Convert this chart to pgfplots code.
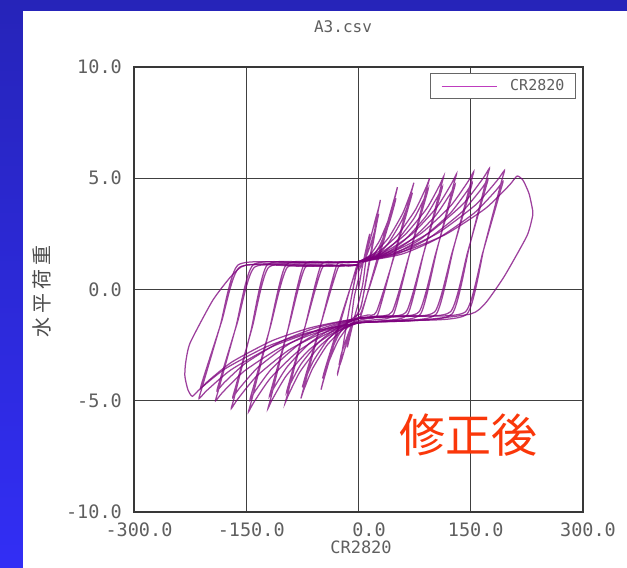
\documentclass[border=0pt]{standalone}
\usepackage{pgfplots}
\pgfplotsset{compat=1.18}
\usepackage{fontspec}
\setmainfont{DejaVu Sans Mono}
\newfontfamily\jp{Noto Sans CJK JP}
\definecolor{hyst}{RGB}{125,0,125}
\definecolor{legline}{RGB}{190,60,190}
\definecolor{bgtop}{RGB}{38,36,185}
\definecolor{bgbot}{RGB}{50,46,245}
\definecolor{fix}{RGB}{250,55,10}
\definecolor{tickgray}{RGB}{95,95,95}
\pgfplotsset{hys/.style={color=hyst, line width=1.25pt, opacity=0.75, smooth, tension=0.35}}
\begin{document}
\begin{tikzpicture}[x=1pt,y=1pt]
\shade[top color=bgtop,bottom color=bgbot] (0,0) rectangle (627,568);
\fill[white] (23,0) rectangle (627,557);
\begin{axis}[
  at={(134pt,56pt)}, anchor=south west,
  width=449pt, height=445pt, scale only axis,
  xmin=-300, xmax=300, ymin=-10, ymax=10,
  xtick={-300,-150,0,150,300}, ytick={-10,-5,0,5,10},
  xticklabels={-300.0,-150.0,\phantom{-}0.0,150.0,300.0},
  yticklabels={-10.0\hspace{-10pt},-5.0,0.0,5.0,10.0},
  grid=major,
  major grid style={draw=black!75, line width=1.3pt},
  axis line style={draw=black!78, line width=2pt},
  tick style={draw=none},
  ticklabel style={font=\fontsize{18.5}{18.5}\selectfont, text=tickgray, inner sep=0pt},
  xticklabel style={yshift=-10.5pt, xshift=5pt},
  yticklabel style={xshift=-12pt},
  title={A3.csv},
  title style={at={(axis description cs:0.4655,1.0764)}, anchor=center, font=\fontsize{16}{16}\selectfont, text=tickgray, inner sep=0pt},
  xlabel={CR2820},
  xlabel style={at={(axis description cs:0.5056,-0.0800)}, anchor=center, font=\fontsize{17}{17}\selectfont, text=tickgray, inner sep=0pt},
  ylabel={水\kern4pt 平\kern4pt 荷\kern4pt 重},
  ylabel style={at={(axis description cs:-0.2049,0.4966)}, anchor=center, font=\jp\fontsize{20}{20}\selectfont, text=black!70, inner sep=0pt},
  legend style={at={(axis description cs:0.98441,0.98652)}, anchor=north east, draw=black!60, line width=1.2pt, fill=white, inner xsep=11pt, inner ysep=0pt, font=\fontsize{15}{15}\selectfont, text=tickgray, column sep=13pt, nodes={inner sep=0pt, minimum height=25pt}},
  legend image code/.code={\draw[#1] (0pt,0pt) -- (55pt,0pt);},
  legend image post style={color=legline, opacity=1, line width=1pt},
]
% cycles 1-2
\addplot[hys] coordinates {(0,0) (5,1.0) (10,1.8) (15,2.5) (12,1.9) (6,0.3) (0,-0.6) (-5,-1.2) (-10,-1.9) (-15,-2.6) (-12,-2.0) (-6,-0.4) (0,0.5) (0,0.8)
 (8,1.4) (16,2.3) (23,3.2) (28,3.8) (29,4.0) (25,3.3) (14,1.2) (4,-0.7) (0,-1.0) (-8,-1.6) (-15,-2.3) (-22,-3.1) (-27,-3.6) (-28,-3.8) (-24,-3.2) (-13,-1.0) (-3,0.8) (0,1.0)
 (8,1.3) (16,2.0) (23,2.8) (27,3.4) (24,2.9) (13,0.9) (3,-0.8) (-8,-1.5) (-16,-2.2) (-23,-2.9) (-26,-3.4) (-22,-2.8) (-12,-0.8) (-2,0.9) (0,1.1)};
\addlegendentry{CR2820\hspace{9pt}}
% cycle 3
\addplot[hys, forget plot] coordinates {(0,1.1) (15.6,1.56) (28.6,2.22) (41.6,3.27) (49.4,4.22) (52,4.6) (48,4.1) (26,1.5) (4,-1.1) (0,-1.3) (-15,-1.72) (-27.5,-2.32) (-40,-3.28) (-47.5,-4.15) (-50,-4.5) (-46,-4.0) (-24,-1.45) (-2,1.1) (0,1.2)
 (15,1.32) (27.5,1.92) (40,2.88) (47.5,3.75) (50,4.1) (46,3.6) (25,1.2) (4,-1.0) (0,-1.1) (-14.4,-1.48) (-26.4,-2.03) (-38.4,-2.9) (-45.6,-3.68) (-48,-4.0) (-44,-3.5) (-23,-1.2) (-2,1.0) (0,1.0)};
% cycle 4
\addplot[hys, forget plot] coordinates {(0,1.2) (22.2,1.67) (40.7,2.35) (59.2,3.43) (70.3,4.4) (74,4.8) (70,4.3) (48,1.6) (26,-1.1) (12,-1.3) (0,-1.4) (-23.1,-1.86) (-42.4,-2.52) (-61.6,-3.57) (-73.2,-4.52) (-77,-4.9) (-73,-4.4) (-51,-1.65) (-29,1.1) (-14,1.2) (0,1.25)
 (21.6,1.44) (39.6,2.07) (57.6,3.08) (68.4,3.98) (72,4.35) (68,3.85) (46,1.3) (24,-1.0) (12,-1.15) (0,-1.25) (-22.5,-1.66) (-41.3,-2.26) (-60,-3.2) (-71.3,-4.05) (-75,-4.4) (-71,-3.9) (-49,-1.4) (-27,1.0) (-13,1.05) (0,1.1)};
% cycle 5
\addplot[hys, forget plot] coordinates {(0,1.25) (28.5,1.74) (52.3,2.45) (76,3.58) (90.3,4.59) (95,5.0) (91,4.5) (69,1.7) (47,-1.1) (24,-1.35) (0,-1.45) (-29.4,-1.92) (-53.9,-2.62) (-78.4,-3.71) (-93.1,-4.7) (-98,-5.1) (-94,-4.6) (-72,-1.75) (-50,1.1) (-25,1.2) (0,1.25)
 (27.9,1.54) (51.2,2.19) (74.4,3.21) (88.4,4.13) (93,4.5) (89,4.0) (67,1.45) (45,-1.0) (22,-1.2) (0,-1.3) (-28.8,-1.73) (-52.8,-2.36) (-76.8,-3.35) (-91.2,-4.24) (-96,-4.6) (-92,-4.1) (-70,-1.5) (-48,1.0) (-24,1.05) (0,1.1)};
% cycle 6
\addplot[hys, forget plot] coordinates {(0,1.25) (34.2,1.75) (62.7,2.48) (91.2,3.64) (108.3,4.68) (114,5.1) (110,4.6) (88,1.75) (66,-1.1) (33,-1.4) (0,-1.5) (-36.3,-2.0) (-66.6,-2.73) (-96.8,-3.89) (-115,-4.93) (-121,-5.35) (-117,-4.85) (-95,-1.9) (-73,1.1) (-36,1.2) (0,1.25)
 (33.6,1.56) (61.6,2.22) (89.6,3.27) (106.4,4.22) (112,4.6) (108,4.1) (86,1.5) (64,-1.0) (32,-1.2) (0,-1.3) (-35.7,-1.76) (-65.5,-2.42) (-95.2,-3.47) (-113,-4.42) (-119,-4.8) (-115,-4.3) (-93,-1.65) (-71,1.0) (-35,1.05) (0,1.1)};
% cycle 7
\addplot[hys, forget plot] coordinates {(0,1.25) (39.3,1.76) (72,2.51) (104.8,3.7) (124.5,4.77) (131,5.2) (127,4.7) (105,1.8) (83,-1.1) (40,-1.4) (0,-1.5) (-44.1,-2.02) (-80.9,-2.78) (-117.6,-3.98) (-139.7,-5.06) (-147,-5.5) (-143,-5.0) (-120,-1.95) (-97,1.1) (-48,1.2) (0,1.25)
 (38.7,1.57) (71,2.25) (103.2,3.33) (122.6,4.3) (129,4.7) (125,4.2) (103,1.6) (81,-1.0) (40,-1.2) (0,-1.3) (-43.5,-1.77) (-79.8,-2.47) (-116,-3.56) (-137.8,-4.55) (-145,-4.95) (-141,-4.45) (-118,-1.7) (-95,1.0) (-47,1.05) (0,1.1)};
% cycle 8
\addplot[hys, forget plot] coordinates {(0,1.25) (46.2,1.78) (84.7,2.55) (123.2,3.76) (146.3,4.85) (154,5.3) (150,4.8) (127,1.85) (104,-1.1) (52,-1.4) (0,-1.5) (-51,-2.0) (-93.5,-2.73) (-136,-3.89) (-161.5,-4.93) (-170,-5.35) (-166,-4.85) (-144,-1.9) (-122,1.1) (-60,1.2) (0,1.25)
 (45.6,1.58) (83.6,2.28) (121.6,3.39) (144.4,4.39) (152,4.8) (148,4.3) (125,1.65) (102,-1.0) (51,-1.2) (0,-1.3) (-50.4,-1.76) (-92.4,-2.44) (-134.4,-3.5) (-159.6,-4.46) (-168,-4.85) (-164,-4.35) (-142,-1.7) (-120,1.0) (-60,1.05) (0,1.1)};
% cycle 9
\addplot[hys, forget plot] coordinates {(0,1.25) (52.5,1.8) (96.3,2.59) (140,3.85) (166.3,4.99) (175,5.45) (171,4.95) (148,1.9) (125,-1.1) (62,-1.4) (0,-1.5) (-57.3,-1.96) (-105,-2.62) (-152.8,-3.67) (-181.5,-4.62) (-191,-5.0) (-187,-4.5) (-164,-1.7) (-141,1.1) (-70,1.2) (0,1.25)
 (51.9,1.6) (95.2,2.33) (138.4,3.49) (164.4,4.53) (173,4.95) (169,4.45) (146,1.7) (123,-1.0) (62,-1.2) (0,-1.3) (-56.7,-1.72) (-104,-2.34) (-151.2,-3.32) (-179.6,-4.19) (-189,-4.55) (-185,-4.05) (-162,-1.5) (-139,1.0) (-70,1.05) (0,1.1)};
% cycle 10
\addplot[hys, forget plot] coordinates {(0,1.25) (58.5,1.78) (107.3,2.56) (156,3.79) (185.3,4.9) (195,5.35) (191,4.85) (168,1.9) (145,-1.1) (72,-1.4) (0,-1.5) (-63.9,-1.94) (-117,-2.59) (-170.4,-3.61) (-202.4,-4.53) (-213,-4.9) (-209,-4.4) (-185,-1.65) (-161,1.1) (-80,1.2) (0,1.25)
 (57.9,1.59) (106.2,2.3) (154.4,3.43) (183.4,4.44) (193,4.85) (189,4.35) (166,1.65) (143,-1.0) (72,-1.2) (0,-1.3) (-63.3,-1.71) (-116,-2.31) (-168.8,-3.25) (-200.5,-4.1) (-211,-4.45) (-207,-3.95) (-183,-1.45) (-159,1.0) (-80,1.05) (0,1.1)};
% cycle 11
\addplot[hys, forget plot] coordinates {(0,1.25) (63.6,1.75) (116.6,2.48) (169.6,3.64) (201.4,4.68) (212,5.1) (220,4.9) (228,4.3) (233,3.5) (232,3.2) (225,2.4) (195,0.6) (170,-0.6) (150,-1.1) (75,-1.4) (0,-1.5) (-66.6,-1.93) (-122,-2.56) (-177.6,-3.55) (-210.9,-4.44) (-222,-4.8) (-228,-4.5) (-232,-3.9) (-231,-3.3) (-225,-2.4) (-195,-0.5) (-170,0.6) (-150,1.1) (-75,1.2) (0,1.25)};
\node[font=\fontsize{16}{16}\selectfont, text=tickgray, inner sep=0pt] at (axis description cs:0.0245,1.036) {kN};
\node[font=\fontsize{11}{11}\selectfont, text=tickgray, inner sep=0pt] at (axis description cs:1.0356,-0.1034) {mm};
\node[font=\jp\fontsize{46}{46}\selectfont, text=fix, inner sep=0pt] at (axis description cs:0.7439,0.173) {修正後};
\end{axis}
\pgfresetboundingbox
\useasboundingbox (0,0) rectangle (627,568);
\end{tikzpicture}
\end{document}
